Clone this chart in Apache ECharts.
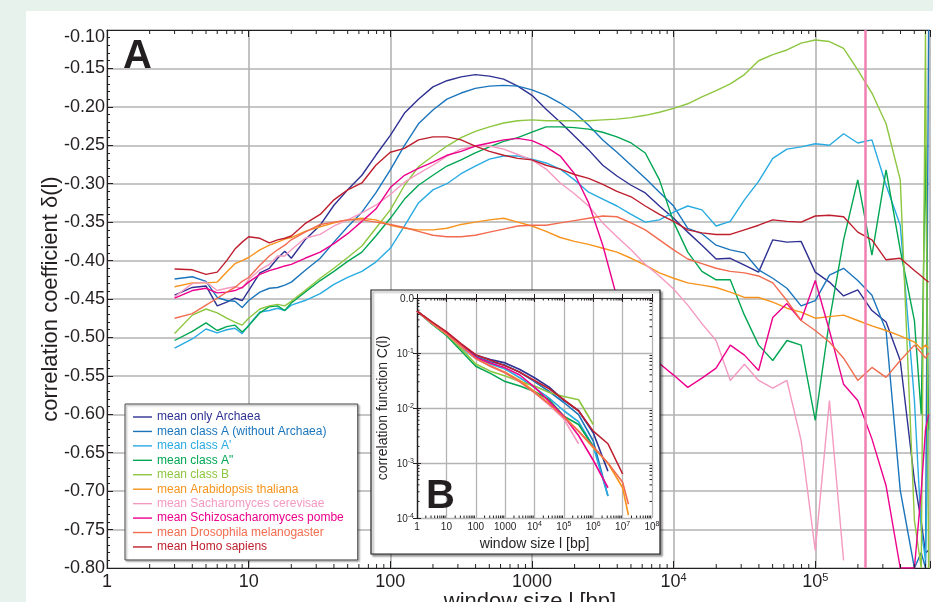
<!DOCTYPE html>
<html><head><meta charset="utf-8">
<script src="https://cdn.jsdelivr.net/npm/echarts@6/dist/echarts.min.js"></script>
<style>
html,body{margin:0;padding:0;width:933px;height:602px;overflow:hidden;background:#e8f2ec;}
#panel{position:absolute;left:26px;top:11px;right:0;bottom:0;background:#fff;}
#chart{position:absolute;left:0;top:0;width:933px;height:602px;}
</style></head><body><div id="panel"></div><div id="chart"></div>
<script>
// ---------- DATA: panel A (window size l in bp, correlation coefficient delta(l)) ----------
const windowSizes = [3,4,5,6,7,8,9,10,12,14,16,18,20,25,32,40,50,63,79,100,126,158,200,251,316,398,501,631,794,1000,1259,1585,1995,2512,3162,3981,5012,6310,7943,10000,12589,15849,19953,25119,31623,39811,50119,63096,79433,100000,125893,158489,199526,251189,316228,398107,501187,560000,600000,630957];

const onlyArchaea = [-0.445,-0.435,-0.433,-0.459,-0.454,-0.449,-0.452,-0.439,-0.416,-0.410,-0.397,-0.388,-0.397,-0.373,-0.354,-0.328,-0.308,-0.289,-0.263,-0.237,-0.208,-0.190,-0.174,-0.166,-0.161,-0.158,-0.160,-0.164,-0.173,-0.185,-0.203,-0.220,-0.238,-0.256,-0.276,-0.290,-0.302,-0.312,-0.329,-0.345,-0.363,-0.380,-0.398,-0.397,-0.406,-0.415,-0.373,-0.376,-0.375,-0.415,-0.428,-0.446,-0.438,-0.465,-0.480,-0.530,-0.686,-0.740,-0.780,-0.777];
const classA = [-0.424,-0.421,-0.427,-0.448,-0.452,-0.453,-0.461,-0.452,-0.441,-0.436,-0.435,-0.432,-0.428,-0.413,-0.397,-0.376,-0.356,-0.337,-0.312,-0.282,-0.250,-0.222,-0.204,-0.190,-0.182,-0.176,-0.173,-0.172,-0.173,-0.178,-0.185,-0.195,-0.207,-0.224,-0.243,-0.259,-0.276,-0.293,-0.311,-0.329,-0.358,-0.365,-0.380,-0.386,-0.390,-0.412,-0.423,-0.436,-0.459,-0.452,-0.419,-0.410,-0.426,-0.445,-0.491,-0.699,-0.800,-0.780,-0.800,-0.100];
const classAPrime = [-0.514,-0.502,-0.489,-0.494,-0.490,-0.488,-0.495,-0.484,-0.467,-0.465,-0.462,-0.465,-0.458,-0.452,-0.443,-0.431,-0.422,-0.414,-0.402,-0.384,-0.355,-0.325,-0.308,-0.300,-0.287,-0.277,-0.268,-0.264,-0.264,-0.268,-0.273,-0.281,-0.295,-0.311,-0.320,-0.329,-0.340,-0.350,-0.347,-0.337,-0.329,-0.334,-0.355,-0.349,-0.321,-0.297,-0.267,-0.255,-0.252,-0.248,-0.250,-0.235,-0.247,-0.243,-0.302,-0.354,-0.582,-0.750,-0.790,-0.600];
const classADoublePrime = [-0.504,-0.492,-0.481,-0.491,-0.486,-0.484,-0.493,-0.485,-0.468,-0.460,-0.459,-0.465,-0.455,-0.441,-0.426,-0.414,-0.401,-0.389,-0.368,-0.345,-0.320,-0.302,-0.289,-0.277,-0.269,-0.260,-0.252,-0.245,-0.240,-0.233,-0.226,-0.226,-0.227,-0.229,-0.233,-0.239,-0.247,-0.260,-0.295,-0.350,-0.389,-0.414,-0.425,-0.425,-0.471,-0.510,-0.530,-0.504,-0.510,-0.608,-0.478,-0.373,-0.295,-0.393,-0.282,-0.386,-0.478,-0.600,-0.250,-0.620];
const classB = [-0.495,-0.471,-0.463,-0.468,-0.475,-0.480,-0.484,-0.475,-0.463,-0.459,-0.457,-0.459,-0.453,-0.439,-0.423,-0.410,-0.396,-0.381,-0.358,-0.334,-0.302,-0.278,-0.264,-0.251,-0.240,-0.232,-0.226,-0.221,-0.218,-0.217,-0.218,-0.218,-0.218,-0.218,-0.217,-0.216,-0.214,-0.211,-0.207,-0.202,-0.196,-0.187,-0.179,-0.170,-0.158,-0.140,-0.132,-0.126,-0.117,-0.113,-0.115,-0.124,-0.152,-0.182,-0.222,-0.295,-0.738,-0.800,-0.100,-0.800];
const arabidopsis = [-0.434,-0.429,-0.429,-0.428,-0.415,-0.404,-0.400,-0.396,-0.386,-0.380,-0.376,-0.372,-0.370,-0.362,-0.356,-0.351,-0.347,-0.345,-0.347,-0.354,-0.358,-0.360,-0.360,-0.358,-0.353,-0.350,-0.347,-0.345,-0.350,-0.355,-0.362,-0.370,-0.375,-0.379,-0.384,-0.389,-0.397,-0.406,-0.416,-0.423,-0.429,-0.432,-0.435,-0.441,-0.448,-0.448,-0.454,-0.462,-0.467,-0.475,-0.473,-0.471,-0.478,-0.485,-0.491,-0.498,-0.506,-0.515,-0.510,-0.514];
const cerevisiae = [-0.447,-0.430,-0.428,-0.439,-0.436,-0.434,-0.436,-0.425,-0.412,-0.405,-0.394,-0.394,-0.386,-0.371,-0.366,-0.355,-0.347,-0.338,-0.328,-0.314,-0.298,-0.287,-0.276,-0.264,-0.255,-0.251,-0.251,-0.255,-0.262,-0.269,-0.281,-0.299,-0.313,-0.329,-0.351,-0.369,-0.386,-0.405,-0.420,-0.437,-0.458,-0.482,-0.504,-0.556,-0.535,-0.556,-0.566,-0.556,-0.634,-0.777,-0.582,-0.790,null,null,null,null,null,null,null,null];
const cerevisiaeSpikeSize = 225000;
const pombe = [-0.449,-0.439,-0.436,-0.442,-0.441,-0.439,-0.435,-0.428,-0.418,-0.413,-0.410,-0.407,-0.405,-0.397,-0.389,-0.378,-0.365,-0.349,-0.333,-0.305,-0.289,-0.280,-0.272,-0.263,-0.258,-0.251,-0.247,-0.243,-0.241,-0.244,-0.252,-0.264,-0.287,-0.325,-0.380,-0.448,-0.491,-0.519,-0.534,-0.549,-0.565,-0.553,-0.540,-0.510,-0.523,-0.543,-0.474,-0.456,-0.478,-0.426,-0.491,-0.561,-0.582,-0.632,-0.693,-0.800,-0.800,-0.700,-0.620,-0.600];
const drosophila = [-0.475,-0.469,-0.458,-0.449,-0.441,-0.435,-0.427,-0.422,-0.406,-0.394,-0.386,-0.380,-0.373,-0.363,-0.353,-0.350,-0.347,-0.347,-0.350,-0.353,-0.357,-0.362,-0.367,-0.369,-0.369,-0.367,-0.363,-0.359,-0.355,-0.354,-0.354,-0.351,-0.348,-0.345,-0.342,-0.343,-0.351,-0.360,-0.373,-0.386,-0.398,-0.404,-0.410,-0.414,-0.416,-0.420,-0.429,-0.452,-0.478,-0.491,-0.506,-0.527,-0.556,-0.539,-0.552,-0.530,-0.510,-0.520,-0.527,-0.520];
const homoSapiens = [-0.411,-0.412,-0.418,-0.415,-0.400,-0.385,-0.376,-0.369,-0.371,-0.377,-0.373,-0.371,-0.368,-0.352,-0.340,-0.321,-0.308,-0.299,-0.276,-0.259,-0.254,-0.243,-0.239,-0.239,-0.243,-0.251,-0.258,-0.263,-0.267,-0.269,-0.276,-0.281,-0.288,-0.293,-0.301,-0.310,-0.317,-0.329,-0.340,-0.349,-0.360,-0.364,-0.366,-0.366,-0.360,-0.354,-0.347,-0.349,-0.350,-0.342,-0.341,-0.343,-0.363,-0.373,-0.399,-0.397,-0.413,-0.420,-0.425,-0.428];

const seriesNames = ['mean only Archaea','mean class A (without Archaea)',"mean class A'",'mean class A"','mean class B','mean Arabidopsis thaliana','mean Sacharomyces cerevisae','mean Schizosacharomyces pombe','mean Drosophila melanogaster','mean Homo sapiens'];
const seriesColors = ['#2e3192','#1b75bc','#29abe2','#00a651','#8dc63f','#f7941d','#f49ac1','#ec008c','#f26c4f','#be1e2d'];
const mainValues = [onlyArchaea,classA,classAPrime,classADoublePrime,classB,arabidopsis,cerevisiae,pombe,drosophila,homoSapiens];

// ---------- DATA: panel B (window size l in bp, log10 of correlation function C(l)) ----------
const insetSizes = [1,3.16,10,31.6,100,316,1000,3162,10000,31623,100000,316228,1000000,3162278,10000000,15800000];
const insetLogC = [
  [-0.24,-0.44,-0.63,-0.85,-1.04,-1.12,-1.18,-1.30,-1.45,-1.62,-1.86,-2.05,-2.45,-3.15,null,null],
  [-0.24,-0.45,-0.64,-0.87,-1.07,-1.16,-1.22,-1.35,-1.52,-1.70,-1.90,-2.12,-2.60,-3.60,null,null],
  [-0.24,-0.46,-0.66,-0.90,-1.10,-1.20,-1.29,-1.45,-1.63,-1.82,-2.05,-2.25,-2.70,-3.60,null,null],
  [-0.24,-0.47,-0.68,-0.96,-1.24,-1.37,-1.52,-1.60,-1.70,-1.85,-2.15,-2.30,-2.70,null,null,null],
  [-0.24,-0.46,-0.66,-0.92,-1.20,-1.33,-1.42,-1.52,-1.60,-1.72,-1.79,-1.85,-2.30,null,null,null],
  [-0.24,-0.45,-0.65,-0.87,-1.09,-1.23,-1.35,-1.50,-1.70,-1.92,-2.15,-2.42,-2.72,-3.00,-3.45,-3.95],
  [-0.24,-0.45,-0.65,-0.88,-1.10,-1.24,-1.36,-1.53,-1.72,-1.95,-2.20,-2.65,null,null,null,null],
  [-0.24,-0.45,-0.64,-0.86,-1.08,-1.18,-1.27,-1.40,-1.62,-1.88,-2.15,-2.50,-2.95,-3.45,null,null],
  [-0.24,-0.45,-0.65,-0.87,-1.10,-1.24,-1.36,-1.52,-1.72,-1.93,-2.17,-2.42,-2.70,-3.00,-3.35,-3.75],
  [-0.24,-0.43,-0.61,-0.83,-1.03,-1.13,-1.23,-1.35,-1.50,-1.65,-1.85,-2.05,-2.42,-2.65,-3.20,null]
];

// ---------- tick labels ----------
const mainXTickExp = [0,1,2,3,4,5];
const insetXTickExp = [0,1,2,3,4,5,6,7,8];
const insetYTickExp = [-4,-3,-2,-1,0];

// ---------- chart ----------
const FONT = '"Liberation Sans", Arial, Helvetica, sans-serif';
const INK = '#231f20';
const GRIDC = '#b3b3b3';
const LEGEND_LINE = 'path://M0,0 M0,4.3 L19,4.3 L19,5.7 L0,5.7 Z M19,10';
const chart = echarts.init(document.getElementById('chart'), null, {renderer:'canvas'});

function expLabel(v) {
  const r = Math.round(v);
  if (Math.abs(v - r) > 1e-6) return '';
  return r < 4 ? '{b|' + Math.pow(10, r) + '}' : '{b|10}{s|' + r + '}';
}
function richFor(big, sup, pad) {
  return {
    b: {fontSize: big, lineHeight: big, padding: [pad,0,0,0], fontFamily: FONT, color: INK},
    s: {fontSize: sup, lineHeight: sup, verticalAlign: 'top', fontFamily: FONT, color: INK}
  };
}
function minorPositions(from, to) {
  const out = [];
  for (let n = from; n < to; n++) for (let k = 2; k <= 9; k++) out.push(n + Math.log10(k));
  return out;
}
function minorTicks(xi, yi, vals, dir, lo, hi, len, z) {
  return {
    type: 'custom', coordinateSystem: 'cartesian2d', xAxisIndex: xi, yAxisIndex: yi,
    silent: true, clip: false, z: z,
    data: vals.map(v => dir === 'x' ? [v, lo] : [lo, v]),
    renderItem: function (params, api) {
      const st = {stroke: INK, lineWidth: 1};
      if (dir === 'x') {
        const v = api.value(0);
        const a = api.coord([v, lo]), b = api.coord([v, hi]);
        return {type: 'group', children: [
          {type: 'line', shape: {x1: a[0], y1: a[1], x2: a[0], y2: a[1] - len}, style: st},
          {type: 'line', shape: {x1: b[0], y1: b[1], x2: b[0], y2: b[1] + len}, style: st}]};
      } else {
        const v = api.value(1);
        const a = api.coord([lo, v]), b = api.coord([hi, v]);
        return {type: 'group', children: [
          {type: 'line', shape: {x1: a[0], y1: a[1], x2: a[0] + len, y2: a[1]}, style: st},
          {type: 'line', shape: {x1: b[0], y1: b[1], x2: b[0] - len, y2: b[1]}, style: st}]};
      }
    }
  };
}

const series = [];
mainValues.forEach((vals, i) => {
  const s = {
    name: seriesNames[i], type: 'line', xAxisIndex: 0, yAxisIndex: 0,
    symbol: 'none', showSymbol: false, z: 2, animation: false,
    lineStyle: {color: seriesColors[i], width: 1.4}, itemStyle: {color: seriesColors[i]},
    data: windowSizes.map((l, j) => [Math.log10(l), vals[j]]).filter(p => p[1] !== null)
  };
  if (i === 6) {
    s.markLine = {silent: true, symbol: 'none', label: {show: false}, animation: false,
      lineStyle: {color: '#f27fb2', width: 2.5, type: 'solid'},
      data: [{xAxis: Math.log10(cerevisiaeSpikeSize)}]};
  }
  series.push(s);
});
insetLogC.forEach((vals, i) => {
  series.push({
    name: seriesNames[i] + ' C(l)', type: 'line', xAxisIndex: 2, yAxisIndex: 1,
    symbol: 'none', z: 6, animation: false,
    lineStyle: {color: seriesColors[i], width: 1.6},
    data: insetSizes.map((l, j) => [Math.log10(l), vals[j]]).filter(p => p[1] !== null)
  });
});
series.push(minorTicks(0, 0, minorPositions(0, 6).filter(v => v <= 5.81), 'x', -0.8, -0.1, 4, 3));
series.push(minorTicks(2, 1, minorPositions(0, 8), 'x', -4, 0, 2.5, 7));
series.push(minorTicks(2, 1, minorPositions(-4, 0), 'y', 0, 8, 2.5, 7));

const axisLineStyle = {show: true, lineStyle: {color: INK, width: 1.2}};

const option = {
  animation: false,
  grid: [
    {left: 107, top: 30, width: 826, height: 538},
    {left: 417, top: 298, width: 235, height: 220}
  ],
  legend: {
    orient: 'vertical', left: 125, top: 404, itemWidth: 19, itemHeight: 10, itemGap: 2.44,
    padding: [7, 14, 7, 8], backgroundColor: '#fff', borderColor: '#444', borderWidth: 1,
    shadowColor: 'rgba(0,0,0,0.35)', shadowBlur: 2, shadowOffsetX: 1.5, shadowOffsetY: 1.5,
    selectedMode: false, z: 8, icon: LEGEND_LINE,
    textStyle: {fontSize: 12, fontFamily: FONT},
    data: seriesNames.map((n, i) => ({name: n, icon: LEGEND_LINE, itemStyle: {color: seriesColors[i]}, textStyle: {color: seriesColors[i]}}))
  },
  xAxis: [
    {type: 'value', gridIndex: 0, min: 0, max: 5.81, interval: 1, position: 'bottom',
     axisLine: axisLineStyle, axisTick: {show: true, inside: true, length: 7, lineStyle: {color: INK}},
     splitLine: {show: true, lineStyle: {color: GRIDC, width: 1.6}},
     axisLabel: {margin: 4, formatter: v => expLabel(v), rich: richFor(18, 11, 3), fontFamily: FONT, color: INK}},
    {type: 'value', gridIndex: 0, min: 0, max: 5.81, interval: 1, position: 'top',
     axisLine: axisLineStyle, axisTick: {show: true, inside: true, length: 7, lineStyle: {color: INK}},
     splitLine: {show: false}, axisLabel: {show: false}},
    {type: 'value', gridIndex: 1, min: 0, max: 8, interval: 1, position: 'bottom', z: 5,
     axisLine: axisLineStyle, axisTick: {show: true, inside: true, length: 4, lineStyle: {color: INK}},
     splitLine: {show: true, lineStyle: {color: GRIDC, width: 1.3}},
     axisLabel: {margin: 3, formatter: v => expLabel(v), rich: richFor(10, 7, 2), fontFamily: FONT, color: INK},
     name: 'window size l [bp]', nameLocation: 'middle', nameGap: 19, nameMoveOverlap: false,
     nameTextStyle: {fontSize: 14, fontFamily: FONT, color: INK}},
    {type: 'value', gridIndex: 1, min: 0, max: 8, interval: 1, position: 'top', z: 5,
     axisLine: axisLineStyle, axisTick: {show: true, inside: true, length: 4, lineStyle: {color: INK}},
     splitLine: {show: false}, axisLabel: {show: false}}
  ],
  yAxis: [
    {type: 'value', gridIndex: 0, min: -0.8, max: -0.1, interval: 0.05, position: 'left',
     axisLine: axisLineStyle, axisTick: {show: true, inside: true, length: 6, lineStyle: {color: INK}},
     minorTick: {show: true, splitNumber: 5, length: 3, lineStyle: {color: INK}},
     splitLine: {show: true, lineStyle: {color: GRIDC, width: 1.6}},
     axisLabel: {margin: 2, fontSize: 18, fontFamily: FONT, color: INK,
       formatter: v => { const s = v.toFixed(2); return Math.abs(v + 0.1) < 1e-6 ? '{t|' + s + '}' : s; },
       rich: {t: {fontSize: 18, padding: [14, 0, 0, 0], fontFamily: FONT, color: INK}}},
     name: 'correlation coefficient δ(l)', nameLocation: 'middle', nameGap: 45, nameMoveOverlap: false,
     nameTextStyle: {fontSize: 22, fontFamily: FONT, color: INK}},
    {type: 'value', gridIndex: 1, min: -4, max: 0, interval: 1, position: 'left', z: 5,
     axisLine: axisLineStyle, axisTick: {show: true, inside: true, length: 4, lineStyle: {color: INK}},
     splitLine: {show: true, lineStyle: {color: GRIDC, width: 1.3}},
     axisLabel: {margin: 3, fontFamily: FONT, color: INK,
       formatter: v => { const r = Math.round(v); return r === 0 ? '{b|0.0}' : '{b|10}{s|' + r + '}'; },
       rich: richFor(10, 7, 2)},
     name: 'correlation function C(l)', nameLocation: 'middle', nameGap: 27, nameMoveOverlap: false,
     nameTextStyle: {fontSize: 14, fontFamily: FONT, color: INK}},
    {type: 'value', gridIndex: 1, min: -4, max: 0, interval: 1, position: 'right', z: 5,
     axisLine: axisLineStyle, axisTick: {show: true, inside: true, length: 4, lineStyle: {color: INK}},
     splitLine: {show: false}, axisLabel: {show: false}}
  ],
  graphic: [
    {type: 'rect', z: 3, silent: true, shape: {x: 371, y: 290, width: 289, height: 264},
     style: {fill: '#fff', stroke: INK, lineWidth: 1.2, shadowBlur: 2, shadowOffsetX: 2, shadowOffsetY: 2, shadowColor: 'rgba(0,0,0,0.4)'}},
    {type: 'text', z: 10, x: 123, y: 57, silent: true,
     style: {text: 'A', fontSize: 40, fontWeight: 'bold', fontFamily: FONT, fill: INK, align: 'left', verticalAlign: 'middle'}},
    {type: 'text', z: 10, x: 426, y: 497, silent: true,
     style: {text: 'B', fontSize: 40, fontWeight: 'bold', fontFamily: FONT, fill: INK, align: 'left', verticalAlign: 'middle'}},
    {type: 'text', z: 10, x: 530, y: 591, silent: true,
     style: {text: 'window size l [bp]', fontSize: 22, fontFamily: FONT, fill: INK, align: 'center', verticalAlign: 'top'}}
  ],
  series: series
};
chart.setOption(option);
</script></body></html>
